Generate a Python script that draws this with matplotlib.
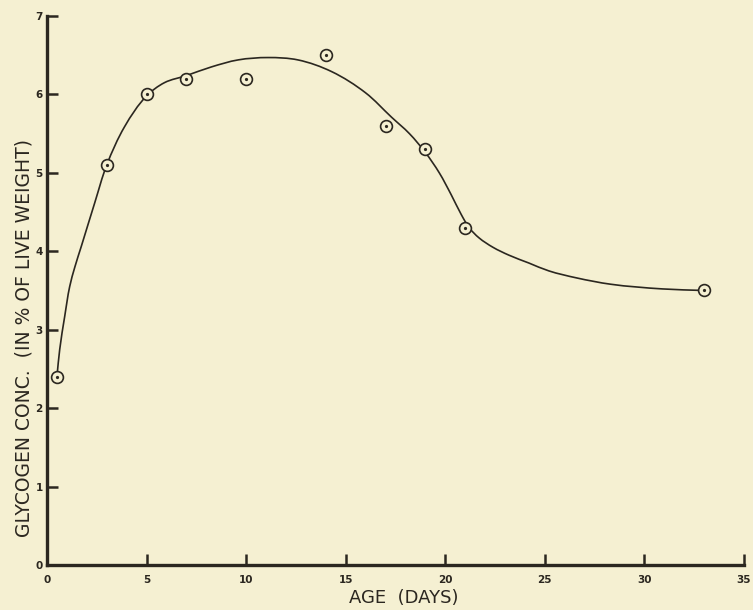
import numpy as np
import matplotlib
matplotlib.use("Agg")
import matplotlib.pyplot as plt
from matplotlib.path import Path
from matplotlib.patches import PathPatch

# Measured glycogen concentration by age
age_days = [0.5, 3, 5, 7, 10, 14, 17, 19, 21, 33]
glycogen_pct = [2.4, 5.1, 6.0, 6.2, 6.2, 6.5, 5.6, 5.3, 4.3, 3.5]

# Hand-fitted trend curve (knots along the smooth line)
curve_x = [0.5, 0.64, 0.89, 1.14, 1.4, 1.72, 2.4, 3.0, 3.9, 5.0, 5.9, 7.0,
           8.25, 9.6, 11.1, 12.6, 14.3, 16.0, 17.3, 18.2, 19.0, 19.7, 20.3,
           20.8, 21.2, 21.7, 22.4, 23.2, 24.2, 25.2, 26.6, 28.3, 30.9, 33.0]
curve_y = [2.4, 2.75, 3.17, 3.55, 3.80, 4.06, 4.62, 5.1, 5.59, 5.98, 6.15,
           6.24, 6.35, 6.44, 6.47, 6.44, 6.29, 6.02, 5.71, 5.50, 5.26, 5.00,
           4.72, 4.47, 4.30, 4.17, 4.05, 3.95, 3.85, 3.75, 3.66, 3.58, 3.52,
           3.50]

x_ticks = [0, 5, 10, 15, 20, 25, 30, 35]
y_ticks = [0, 1, 2, 3, 4, 5, 6, 7]

BG = "#f5f0d2"
INK = "#2b2720"

fig = plt.figure(figsize=(7.53, 6.10), dpi=100, facecolor=BG)
ax = fig.add_axes([0.0624, 0.0738, 0.9256, 0.9000], facecolor=BG)
ax.set_xlim(0, 35)
ax.set_ylim(0, 7)


def smooth_path(xs, ys, yscale):
    """Cubic Bezier path through the knots (Catmull-Rom style tangents)."""
    p = np.column_stack([np.asarray(xs, float), np.asarray(ys, float) * yscale])
    n = len(p)
    tang = np.zeros_like(p)
    for i in range(n):
        if i == 0 or i == n - 1:
            d = p[min(i + 1, n - 1)] - p[max(i - 1, 0)]
            tang[i] = d / np.hypot(*d)
            continue
        a = p[i] - p[i - 1]
        b = p[i + 1] - p[i]
        la, lb = np.hypot(*a), np.hypot(*b)
        d = a / la + b / lb
        tang[i] = d / np.hypot(*d)
    verts = [p[0]]
    codes = [Path.MOVETO]
    for i in range(n - 1):
        seg = np.hypot(*(p[i + 1] - p[i])) / 3.0
        verts += [p[i] + tang[i] * seg, p[i + 1] - tang[i + 1] * seg, p[i + 1]]
        codes += [Path.CURVE4] * 3
    verts = np.array(verts)
    verts[:, 1] /= yscale
    return Path(verts, codes)


# one y unit is ~3.9x longer than one x unit on the page
ax.add_patch(PathPatch(smooth_path(curve_x, curve_y, 3.94), facecolor="none",
                       edgecolor=INK, lw=1.2, zorder=2))

ax.plot(age_days, glycogen_pct, linestyle="none", marker="o", ms=8.5,
        mfc=BG, mec=INK, mew=1.2, zorder=3)
ax.plot(age_days, glycogen_pct, linestyle="none", marker="o", ms=1.3,
        mfc=INK, mec=INK, zorder=4)

for side in ("top", "right"):
    ax.spines[side].set_visible(False)
for side in ("left", "bottom"):
    ax.spines[side].set_linewidth(2.4)
    ax.spines[side].set_color(INK)

ax.set_xticks(x_ticks)
ax.set_yticks(y_ticks)
ax.tick_params(axis="both", direction="in", length=8, width=1.8, color=INK,
               labelcolor=INK, labelsize=7.5)
ax.tick_params(axis="x", pad=7)
ax.tick_params(axis="y", pad=3)
for lab in ax.get_xticklabels() + ax.get_yticklabels():
    lab.set_fontweight("bold")

fig.text(404 / 753, 1 - 598 / 610, "AGE  (DAYS)", ha="center", va="center",
         fontsize=13, color=INK)

fig.text(24 / 753, 1 - 338 / 610, "GLYCOGEN CONC.  (IN % OF LIVE WEIGHT)",
         rotation=90, ha="center", va="center", fontsize=13.5, color=INK)

fig.savefig("out.png", dpi=100, facecolor=BG)
